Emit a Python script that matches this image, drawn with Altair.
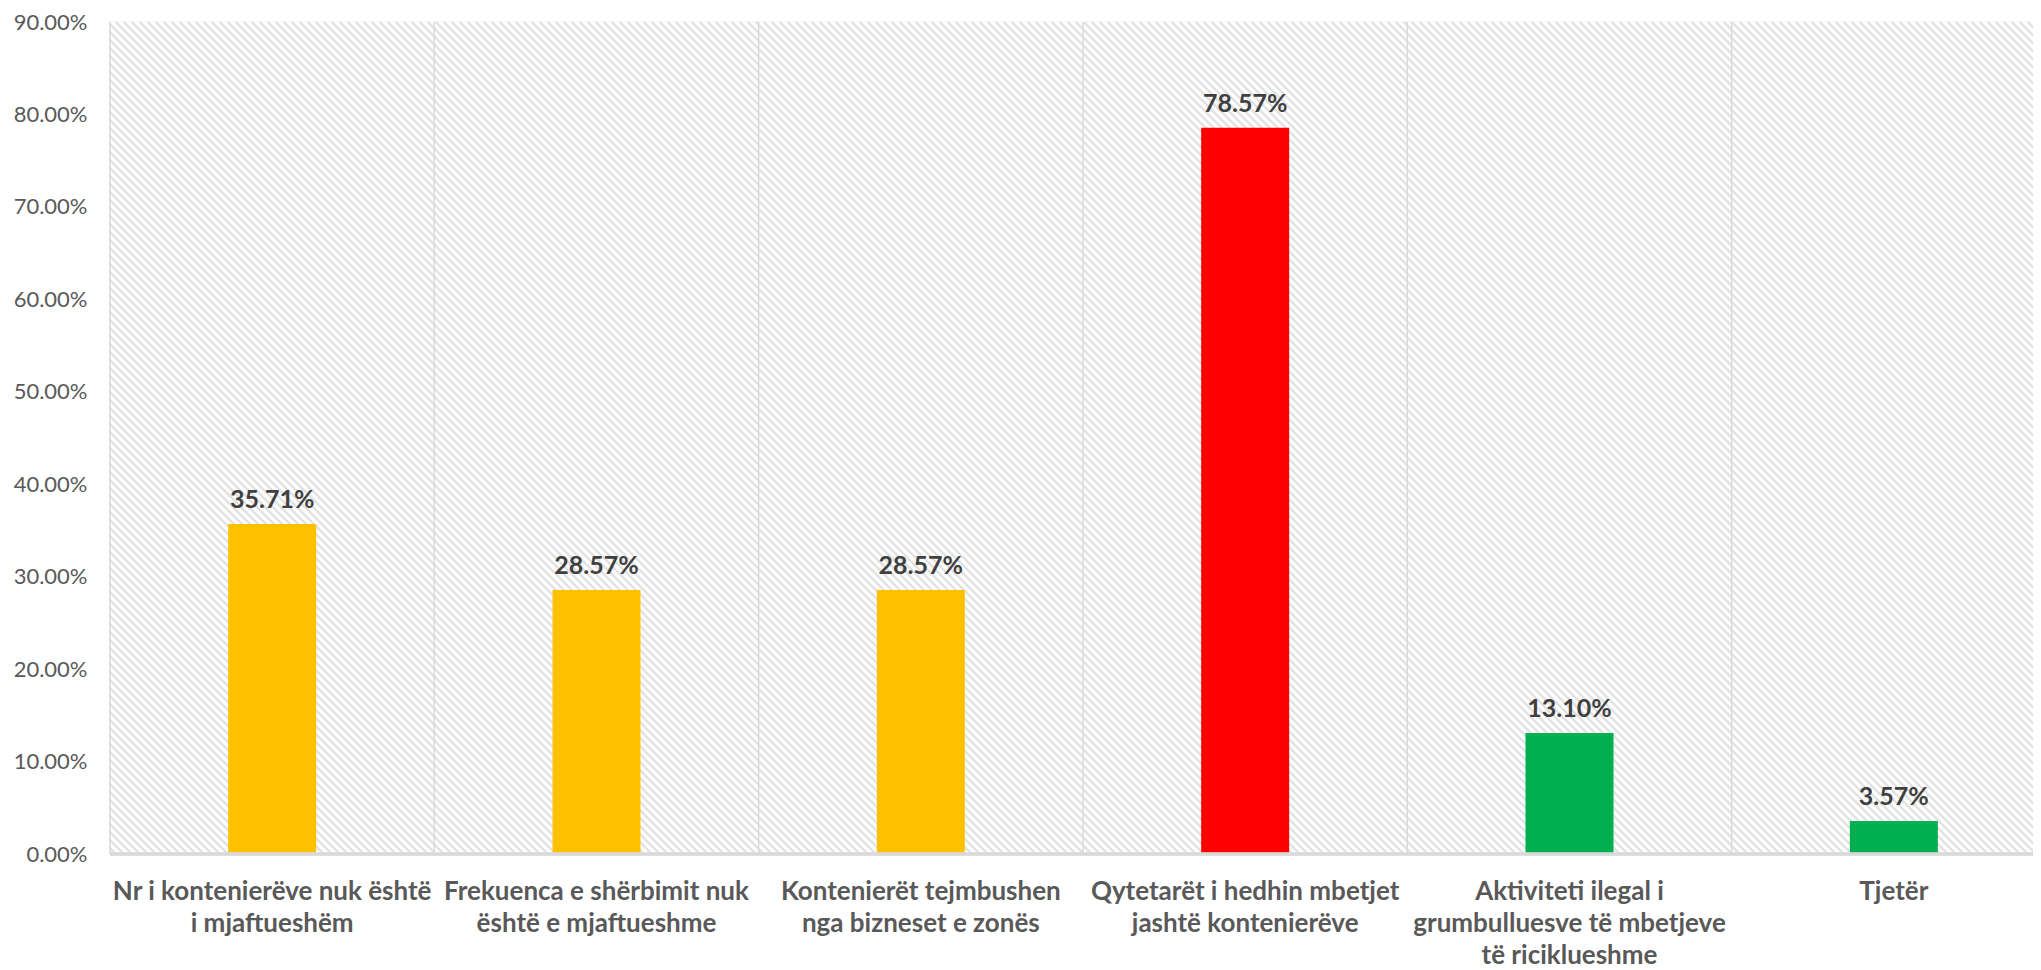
import altair as alt
import pandas as pd

# ---- data ----
categories = [
    "Nr i kontenierëve nuk është|i mjaftueshëm",
    "Frekuenca e shërbimit nuk|është e mjaftueshme",
    "Kontenierët tejmbushen|nga bizneset e zonës",
    "Qytetarët i hedhin mbetjet|jashtë kontenierëve",
    "Aktiviteti ilegal i|grumbulluesve të mbetjeve|të riciklueshme",
    "Tjetër",
]
values = [0.3571, 0.2857, 0.2857, 0.7857, 0.1310, 0.0357]
groups = ["g1", "g1", "g1", "g2", "g3", "g3"]
group_names = ["g1", "g2", "g3"]
group_colors = ["#FFC000", "#FF0000", "#00B050"]
y_ticks = [0.0, 0.1, 0.2, 0.3, 0.4, 0.5, 0.6, 0.7, 0.8, 0.9]

df = pd.DataFrame({"cat": categories, "val": values, "grp": groups})

W, H = 1923, 832
FULL_RANGE = 1946

# diagonal hatch background as a striped linear gradient
k = (W + H) / (W * W + H * H)
period = 8.0
span = W + H
n = int(span / period) + 1
stops = []
for i in range(n + 1):
    for frac, col in ((0.0, "#ffffff"), (0.3, "#ffffff"), (0.65, "#dadada")):
        t = (i + frac) * period / span
        if t <= 1:
            stops.append({"offset": round(t, 6), "color": col})
hatch = {
    "gradient": "linear",
    "x1": 1, "y1": 0,
    "x2": 1 - k * W, "y2": k * H,
    "stops": stops,
}

FONT = "Lato"
xscale = alt.Scale(domain=categories, range=[0, FULL_RANGE], paddingInner=0, paddingOuter=0)
yscale = alt.Scale(domain=[0, 0.9], nice=False)
xaxis = alt.Axis(labelExpr="split(datum.label, '|')", labelAngle=0,
                 labelBaseline="top", labelPadding=24, labelLineHeight=32,
                 labelFont=FONT, labelFontSize=26, labelFontWeight="bold",
                 labelColor="#595959", labelLimit=600, ticks=False, tickSize=0,
                 domain=False, grid=False, title=None)

base = alt.Chart(df)

background = alt.Chart(alt.Data(values=[{"bg": 1}])).mark_rect(fill=hatch, strokeWidth=0).encode(
    x=alt.value(0), x2=alt.value(W), y=alt.value(0), y2=alt.value(H)
)

bars = base.mark_bar(width=88).encode(
    x=alt.X("cat:N", sort=categories, scale=xscale, axis=xaxis),
    y=alt.Y("val:Q", scale=yscale, title=None,
            axis=alt.Axis(values=y_ticks, format=".2%", grid=True, gridColor="#d9d9d9",
                          gridWidth=1.5, domain=False, ticks=False, tickSize=0,
                          labelPadding=23, labelFont=FONT, labelFontSize=22,
                          labelColor="#595959")),
    color=alt.Color("grp:N", scale=alt.Scale(domain=group_names, range=group_colors), legend=None),
)

vrules = base.mark_rule(color="#d9d9d9", strokeWidth=1.5).encode(
    x=alt.X("cat:N", sort=categories, scale=xscale, bandPosition=0, axis=xaxis),
    y=alt.datum(0.9),
    y2=alt.datum(0.0),
)

baseline = base.mark_rule(color="#d9d9d9", strokeWidth=2.5).encode(
    y=alt.datum(0.0),
    x=alt.value(0),
    x2=alt.value(W),
)

labels = base.mark_text(font=FONT, fontSize=25, fontWeight="bold", color="#404040",
                        baseline="alphabetic", dy=-16).encode(
    x=alt.X("cat:N", sort=categories, scale=xscale, axis=xaxis),
    y=alt.Y("val:Q", scale=yscale),
    text=alt.Text("val:Q", format=".2%"),
)

chart = alt.layer(background, bars, vrules, baseline, labels).properties(
    width=W, height=H,
    autosize=alt.AutoSizeParams(type="none"),
    padding={"left": 102, "top": 14, "right": 0, "bottom": 114},
).configure_view(stroke=None)

chart.save("out.html", embed_options={"renderer": "svg", "actions": False})
